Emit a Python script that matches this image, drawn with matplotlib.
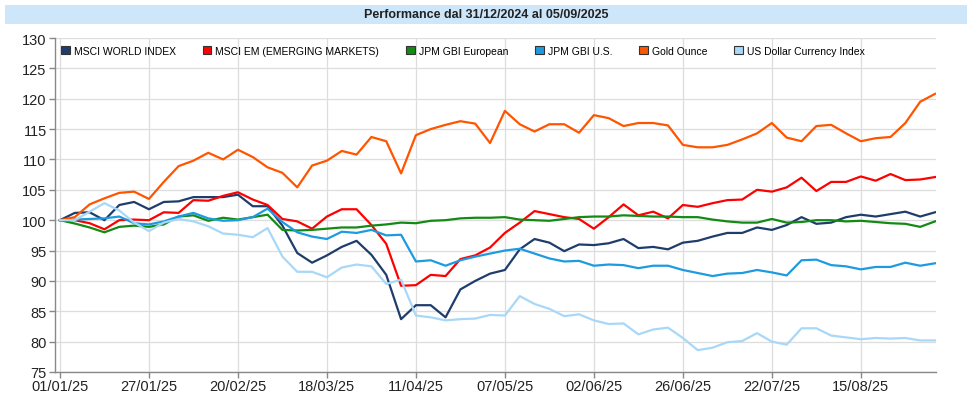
import matplotlib
matplotlib.use("Agg")
import matplotlib.pyplot as plt
from matplotlib.patches import Rectangle
import numpy as np
import pandas as pd

plt.rcParams['font.family'] = ['Liberation Sans', 'DejaVu Sans']

# business days 31/12/2024 -> 05/09/2025, sampled every 3 sessions
days = pd.bdate_range("2025-01-01", "2025-09-05")
step = 3
sample_idx = np.arange(0, len(days), step)

msci_world = [100, 101.2, 101.3, 100.0, 102.5, 103.0, 101.8, 103.0, 103.1, 103.8,
              103.8, 103.8, 104.2, 102.3, 102.3, 99.1, 94.6, 93.0, 94.2, 95.6,
              96.6, 94.3, 91.0, 83.7, 86.0, 86.0, 84.0, 88.6, 90.0, 91.2,
              91.8, 95.2, 96.9, 96.3, 94.9, 96.0, 95.9, 96.2, 96.9, 95.4,
              95.6, 95.2, 96.3, 96.6, 97.3, 97.9, 97.9, 98.8, 98.4, 99.2,
              100.5, 99.4, 99.6, 100.5, 100.9, 100.6, 101.0, 101.4, 100.6, 101.3]
msci_em = [100, 100.0, 99.5, 98.5, 100.0, 100.1, 100.0, 101.3, 101.2, 103.3,
           103.2, 104.0, 104.6, 103.4, 102.5, 100.2, 99.8, 98.6, 100.6, 101.8,
           101.8, 99.2, 96.1, 89.2, 89.3, 91.0, 90.8, 93.6, 94.2, 95.5,
           97.9, 99.6, 101.5, 101.0, 100.5, 100.2, 98.6, 100.5, 102.6, 100.8,
           101.4, 100.3, 102.5, 102.2, 102.8, 103.3, 103.4, 105.0, 104.7, 105.4,
           107.0, 104.8, 106.3, 106.3, 107.2, 106.5, 107.6, 106.6, 106.7, 107.1]
gbi_europe = [100, 99.45, 98.8, 98.0, 98.9, 99.1, 98.9, 99.3, 100.6, 100.8,
              99.9, 100.4, 100.1, 100.5, 100.9, 98.4, 98.3, 98.4, 98.6, 98.8,
              98.8, 99.1, 99.3, 99.6, 99.5, 99.9, 100.0, 100.3, 100.4, 100.4,
              100.5, 100.1, 100.0, 99.9, 100.2, 100.5, 100.6, 100.6, 100.8, 100.7,
              100.6, 100.6, 100.5, 100.5, 100.1, 99.8, 99.6, 99.6, 100.2, 99.6,
              99.7, 100.0, 100.0, 99.8, 99.9, 99.7, 99.5, 99.4, 98.9, 99.8]
gbi_us = [100, 100.1, 100.2, 100.3, 100.6, 99.5, 99.3, 99.8, 100.6, 101.2,
          100.3, 99.9, 100.0, 100.5, 101.9, 99.7, 98.0, 97.3, 96.9, 98.1,
          97.9, 98.4, 97.5, 97.6, 93.2, 93.4, 92.5, 93.4, 94.0, 94.5,
          95.0, 95.3, 94.5, 93.7, 93.2, 93.3, 92.5, 92.7, 92.6, 92.1,
          92.5, 92.5, 91.8, 91.3, 90.8, 91.2, 91.3, 91.8, 91.4, 90.9,
          93.4, 93.5, 92.6, 92.4, 91.9, 92.3, 92.3, 93.0, 92.5, 92.9]
gold = [100, 100.5, 102.6, 103.6, 104.5, 104.7, 103.5, 106.3, 108.9, 109.8,
        111.1, 110.0, 111.6, 110.4, 108.7, 107.8, 105.4, 109.0, 109.8, 111.4,
        110.8, 113.7, 113.0, 107.7, 114.0, 115.0, 115.7, 116.3, 115.9, 112.7,
        118.0, 115.8, 114.6, 115.8, 115.8, 114.4, 117.3, 116.8, 115.5, 116.0,
        116.0, 115.6, 112.4, 112.0, 112.0, 112.4, 113.3, 114.3, 116.0, 113.6,
        113.0, 115.5, 115.7, 114.3, 113.0, 113.5, 113.7, 116.0, 119.5, 120.8]
usd_index = [100, 100.0, 101.4, 102.8, 101.6, 99.6, 98.2, 99.6, 100.2, 99.8,
             99.0, 97.8, 97.6, 97.2, 98.7, 94.0, 91.5, 91.5, 90.6, 92.2,
             92.7, 92.4, 89.5, 90.2, 84.3, 84.0, 83.5, 83.7, 83.8, 84.4,
             84.3, 87.5, 86.2, 85.4, 84.2, 84.5, 83.5, 82.9, 83.0, 81.2,
             82.0, 82.3, 80.6, 78.6, 79.0, 79.9, 80.1, 81.4, 80.0, 79.5,
             82.2, 82.2, 81.0, 80.7, 80.4, 80.6, 80.5, 80.6, 80.2, 80.2]

series_names = ["MSCI WORLD INDEX", "MSCI EM (EMERGING MARKETS)", "JPM GBI European",
                "JPM GBI U.S.", "Gold Ounce", "US Dollar Currency Index"]
series_colors = ["#1f3d6b", "#ff0000", "#138a13", "#1e9be0", "#ff5500", "#a8d8f8"]
series_values = [msci_world, msci_em, gbi_europe, gbi_us, gold, usd_index]

tick_every = 18
tick_pos = np.arange(0, len(days), tick_every)
tick_labels = [d.strftime("%d/%m/%y") for d in days[tick_pos]]

fig = plt.figure(figsize=(9.72, 4.10), dpi=100)

# title band
fig.patches.append(Rectangle((5 / 972, 1 - 25 / 410), 962 / 972, 19 / 410,
                             transform=fig.transFigure, facecolor="#cde6fa",
                             edgecolor="none", zorder=0))
fig.text(0.5, 1 - 15.5 / 410, "Performance dal 31/12/2024 al 05/09/2025",
         ha="center", va="center", fontsize=9, fontweight="bold", color="#222222")

ax = fig.add_axes([55 / 972, 1 - 373 / 410, 881 / 972, 334 / 410])

for name, col, vals in zip(series_names, series_colors, series_values):
    ax.plot(sample_idx, vals, color=col, lw=1.6, label=name, solid_joinstyle="round")

ax.set_xlim(-1, len(days) - 1 + 0.2)
ax.set_ylim(75, 130)
ax.set_yticks(np.arange(75, 131, 5))
ax.set_xticks(tick_pos)
ax.set_xticklabels(tick_labels)
ax.grid(True, color="#dddddd", lw=0.9)
ax.set_axisbelow(True)

for s in ["top", "right"]:
    ax.spines[s].set_visible(False)
for s in ["left", "bottom"]:
    ax.spines[s].set_color("#888888")
    ax.spines[s].set_linewidth(1.0)
ax.tick_params(axis="both", colors="#888888", length=4, width=1.0,
               labelcolor="#222222", labelsize=10.5)
ax.tick_params(axis="y", pad=2)
ax.tick_params(axis="x", pad=1)

handles = [Rectangle((0, 0), 1, 1, facecolor=c, edgecolor="#333333", lw=0.8)
           for c in series_colors]
ax.legend(handles, series_names, loc="upper left", bbox_to_anchor=(0.0, 0.995),
          ncol=6, frameon=False, fontsize=7.5, handlelength=0.8, handleheight=0.8,
          handletextpad=0.4, columnspacing=2.6, borderaxespad=0.2)

fig.savefig("out.png", dpi=100)
